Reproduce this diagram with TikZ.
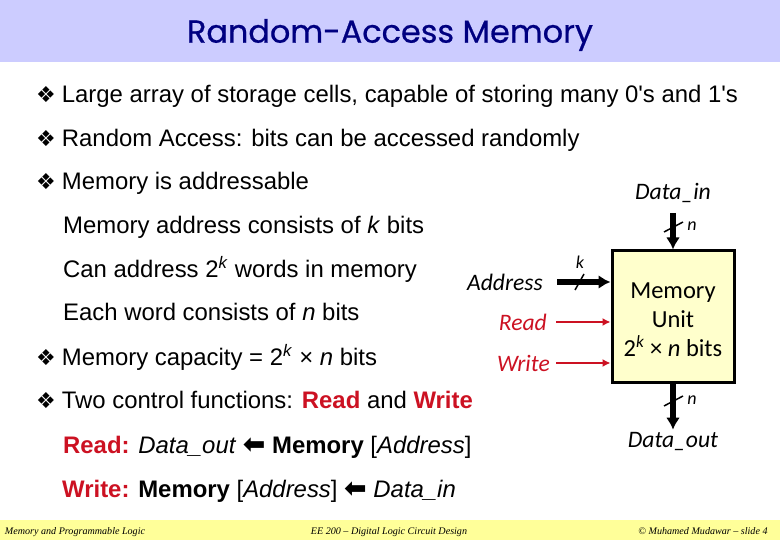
\documentclass[tikz,border=0pt]{standalone}
\usepackage{fontspec}
\newfontfamily\bodyfont{Liberation Sans}
\newfontfamily\carlitofont{Carlito}
\newfontfamily\titlefont[FakeBold=0.6]{Poppins}
\newfontfamily\footfont{Liberation Serif}
\newfontfamily\dejafont{DejaVu Sans}
\usepackage{tikz}
\usetikzlibrary{positioning}
\usetikzlibrary{arrows.meta}
\usepackage{color}
\definecolor{titleblue}{HTML}{CCCCFF}
\definecolor{titlenavy}{HTML}{000080}
\definecolor{footyellow}{HTML}{FFFF99}
\definecolor{unityellow}{HTML}{FFFFCC}
\definecolor{ctrlred}{HTML}{CC1122}
\newcommand{\bulletmark}{{\dejafont\fontsize{22}{22}\selectfont\char"2756}}
\newcommand{\fromarrow}{{\dejafont\bfseries\fontsize{27}{27}\selectfont\char"2B05}}

\begin{document}
\begin{tikzpicture}[
x=1pt, y=-1pt,
textline/.style={anchor=base west, inner sep=0pt, font=\bodyfont\fontsize{23.9}{28}\selectfont},
footline/.style={anchor=base, inner sep=0pt, font=\footfont\itshape\fontsize{10.1}{12}\selectfont},
unitlabel/.style={inner sep=0pt, font=\carlitofont\fontsize{24.5}{29}\selectfont},
portlabel/.style={inner sep=0pt, font=\carlitofont\itshape\fontsize{23.6}{28}\selectfont},
sizelabel/.style={inner sep=0pt, font=\carlitofont\itshape\fontsize{18}{20}\selectfont},
unitbox/.style={rectangle, draw=black, fill=unityellow, line width=3pt, minimum width=122pt, minimum height=132pt, inner sep=0pt, align=center},
busline/.style={line width=5.5pt, -{Latex[length=12pt,width=14pt]}},
ctrlline/.style={draw=ctrlred, line width=1.5pt, -{Latex[length=8pt,width=8pt]}},
slashline/.style={line width=1.5pt},
]
\useasboundingbox (0,0) rectangle (780,540);
%Bands
\fill[titleblue] (0,0) rectangle (780,62);
\fill[footyellow] (0,520) rectangle (780,540);

%Title
\node[inner sep=0pt, text=titlenavy, font=\titlefont\fontsize{31.9}{36}\selectfont] (title) at (390,35) {Random-Access Memory};

%Text
\node[textline] (line1) at (36,103) {\bulletmark\hspace{6pt}Large array of storage cells, capable of storing many 0's and 1's};
\node[textline] (line2) at (36,147) {\bulletmark\hspace{6pt}Random Access: bits can be accessed randomly};
\node[textline] (line3) at (36,190) {\bulletmark\hspace{6pt}Memory is addressable};
\node[textline] (line4) at (63,234) {Memory address consists of \textit{k} bits};
\node[textline] (line5) at (63,278) {Can address 2\textsuperscript{\textit{k}} words in memory};
\node[textline] (line6) at (63,321) {Each word consists of \textit{n} bits};
\node[textline] (line7) at (36,366) {\bulletmark\hspace{6pt}Memory capacity = 2\textsuperscript{\textit{k}} × \textit{n} bits};
\node[textline] (line8) at (36,409) {\bulletmark\hspace{6pt}Two control functions: \textcolor{ctrlred}{\textbf{Read}} and \textcolor{ctrlred}{\textbf{Write}}};
\node[textline] (line9) at (63,453) {\textcolor{ctrlred}{\textbf{Read:}} \textit{Data\_out} \fromarrow\ \textbf{Memory} [\textit{Address}]};
\node[textline] (line10) at (62,497) {\textcolor{ctrlred}{\textbf{Write:}} \textbf{Memory} [\textit{Address}] \fromarrow\ \textit{Data\_in}};

%Footer
\node[footline] (foot1) at (75,534) {Memory and Programmable Logic};
\node[footline] (foot2) at (389,534) {EE 200 – Digital Logic Circuit Design};
\node[footline] (foot3) at (703,534) {© Muhamed Mudawar – slide 4};

%Nodes
\node[unitbox, unitlabel] (unit) at (673,317) {\rule{0pt}{22pt}Memory\\Unit\\2\textsuperscript{\textit{k}} × \textit{n} bits};
\node[portlabel] (datain) at (673,193) {Data\_in};
\node[portlabel] (dataout) at (673,442) {Data\_out};
\node[portlabel, anchor=east] (address) at (543,282) {Address};
\node[portlabel, text=ctrlred, anchor=east] (read) at (547,322) {Read};
\node[portlabel, text=ctrlred, anchor=east] (write) at (550,363) {Write};
\node[sizelabel] (nin) at (692,226) {\textit{n}};
\node[sizelabel] (nout) at (692,400) {\textit{n}};
\node[sizelabel] (kaddr) at (580,262) {\textit{k}};

%Lines
\draw[busline, shorten <=14pt] (address.east) -- (address.east -| unit.west);
\draw[ctrlline, shorten <=9pt] (read.east) -- (read.east -| unit.west);
\draw[ctrlline, shorten <=6pt] (write.east) -- (write.east -| unit.west);
\draw[busline, shorten <=10pt] (datain.south) -- (unit.north);
\draw[busline, shorten >=3pt] (unit.south) -- (dataout.north);

%Slashes
\draw[slashline] (664,232) -- (683,222);
\draw[slashline] (664,406) -- (683,396);
\draw[slashline] (575,290) -- (584,274);
\end{tikzpicture}
\end{document}
